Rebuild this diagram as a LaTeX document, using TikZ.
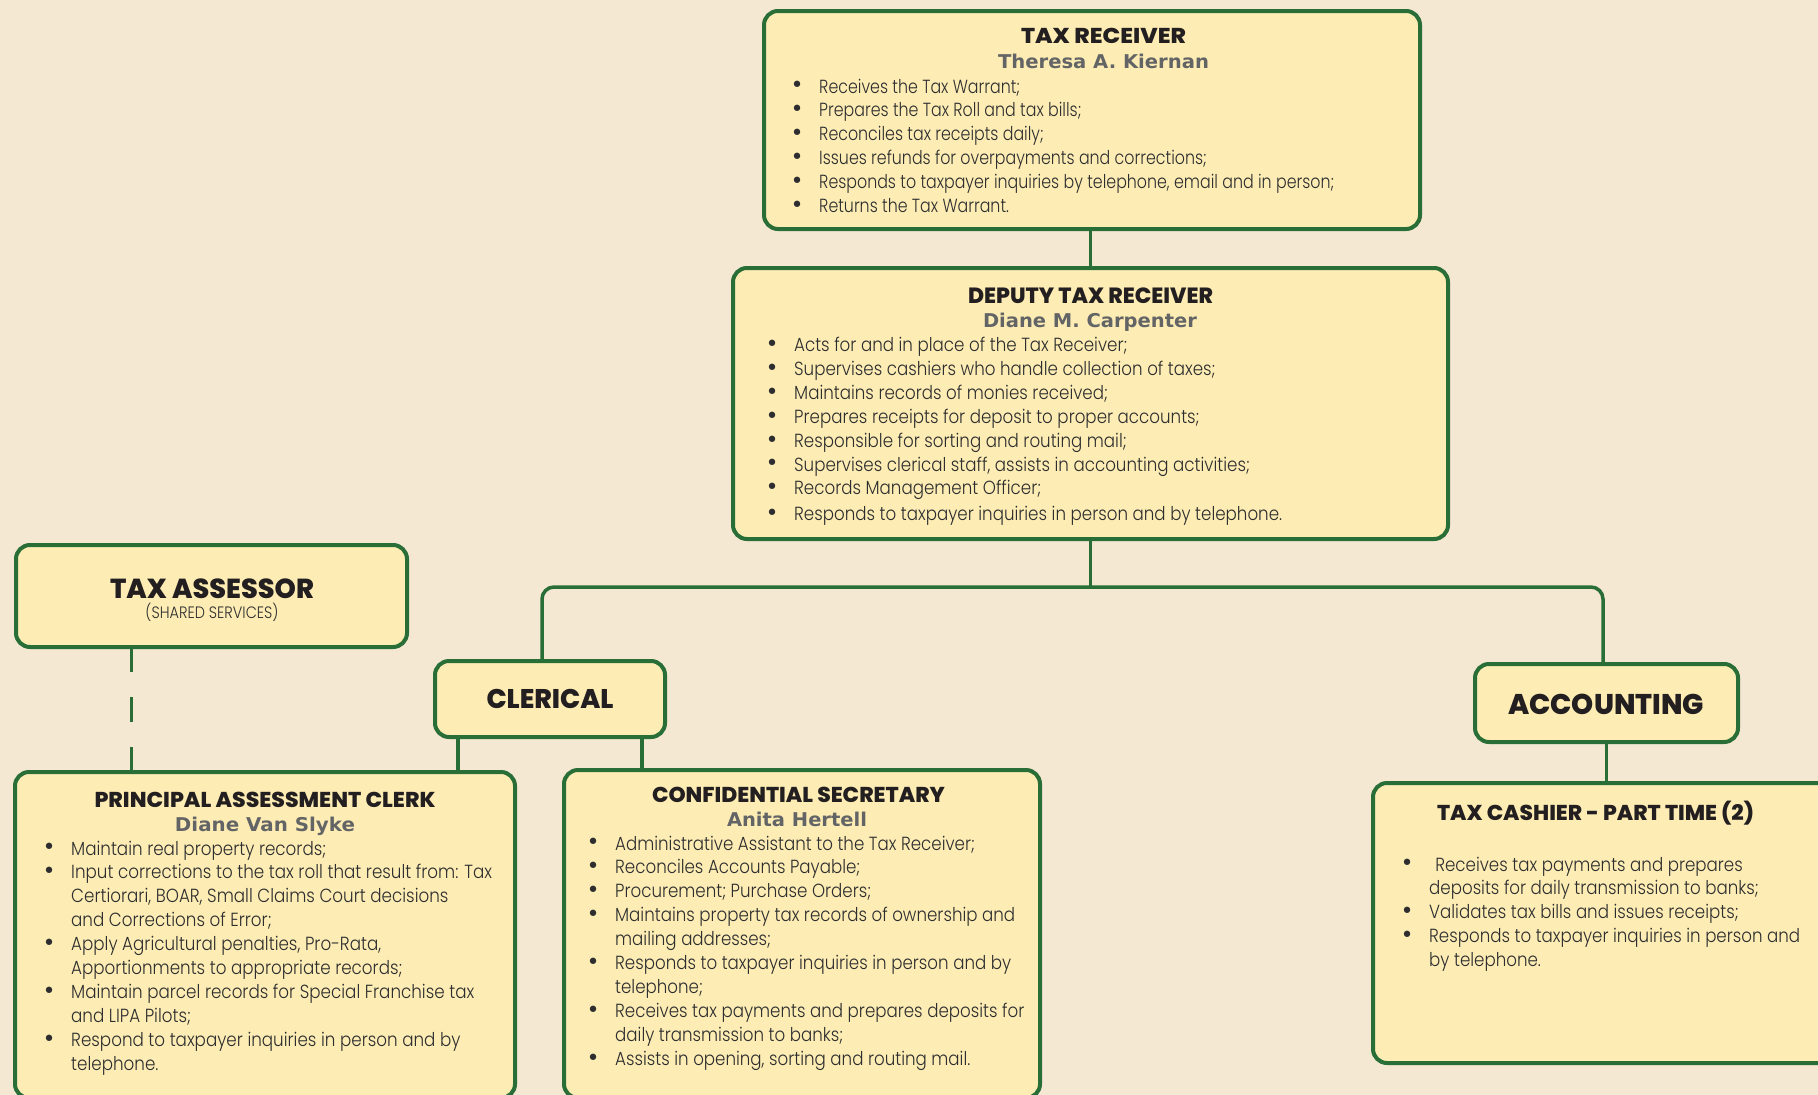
\documentclass[tikz,border=0pt]{standalone}
\usepackage{fontspec}
\usepackage{graphicx}
\newfontfamily\bodyf{Poppins Light}
\newfontfamily\headf{Poppins ExtraBold}
\newfontfamily\namef{DejaVu Sans}
\definecolor{bgc}{HTML}{F4E8D2}
\definecolor{boxfill}{HTML}{FDEDB4}
\definecolor{grn}{HTML}{2A6E37}
\definecolor{titlec}{HTML}{231F20}
\definecolor{namec}{HTML}{636466}
\definecolor{bodyc}{HTML}{2E2E30}
\newsavebox\measurebox
\newlength\measlen
\newcommand\setxr[2]{\sbox\measurebox{#2}\setlength\measlen{\wd\measurebox}\pgfmathsetmacro\xr{#1/\measlen}}
\newcommand\fitw[2]{\resizebox{#1pt}{\height}{#2}}
\newcommand\bul{\makebox[0pt][c]{\raisebox{-0.9pt}{\scalebox{1.45}{\textbullet}}}}
\newcommand\bl[1]{\hbox{\bul\hspace*{22pt}\scalebox{\xr}[1]{#1}}}
\newcommand\cl[1]{\hbox{\hspace*{22pt}\scalebox{\xr}[1]{#1}}}
\newcommand\lines[1]{\vtop{\baselineskip=23.9pt\lineskiplimit=-100pt\lineskip=0pt #1}}
\tikzset{
  box/.style={draw=grn, line width=4pt, fill=boxfill, rounded corners=14pt, inner sep=0pt, outer sep=0pt, anchor=north west},
  conn/.style={draw=grn, line width=3.5pt},
  ttl/.style={anchor=base, inner sep=0pt, text=titlec},
  nm/.style={anchor=base, inner sep=0pt, text=namec, font=\namef\bfseries\fontsize{19}{23}\selectfont},
  lst/.style={anchor=base west, inner sep=0pt, text=bodyc, font=\bodyf\fontsize{19}{24}\selectfont},
}
\begin{document}
\begin{tikzpicture}[x=1pt, y=1pt, yscale=-1]
\useasboundingbox (0,0) rectangle (1818,1095);
\clip (0,0) rectangle (1818,1095);
\fill[bgc] (0,0) rectangle (1818,1095);

% boxes
\node[box, minimum width=656pt, minimum height=218pt] (tr) at (764,11) {};
\node[box, minimum width=715pt, minimum height=271pt] (dtr) at (733,268) {};
\node[box, minimum width=391pt, minimum height=102pt] (ta) at (16,545) {};
\node[box, minimum width=230pt, minimum height=76pt] (cl) at (435,661) {};
\node[box, minimum width=263pt, minimum height=78pt] (acc) at (1475,664) {};
\node[box, minimum width=500pt, minimum height=326pt] (pac) at (15,772) {};
\node[box, minimum width=476pt, minimum height=328pt] (cs) at (564,770) {};
\node[box, minimum width=470pt, minimum height=280pt] (tc) at (1373,783) {};

% connectors
\draw[conn] (dtr.north) -- (dtr.north |- tr.south);
\coordinate (bus) at (1090.5,587);
\draw[conn] (dtr.south) -- (bus);
\draw[conn, rounded corners=12pt] ([xshift=-8pt]cl.north) |- (bus) -| ([xshift=-3.5pt]acc.north);
\draw[conn] (acc.south) -- (acc.south |- tc.north);
\draw[conn] ([xshift=-92pt]cl.south) -- ([xshift=-92pt]cl.south |- pac.north);
\draw[conn] ([xshift=92pt]cl.south) -- ([xshift=92pt]cl.south |- cs.north);
\draw[conn, dash pattern=on 25pt off 25pt] ([xshift=-80pt]ta.south) -- ([xshift=-80pt]ta.south |- pac.north);

% TAX RECEIVER
\node[ttl, font=\headf\fontsize{21.5}{26}\selectfont] (tr-t) at (1103.5,43) {\fitw{165}{TAX RECEIVER}};
\node[nm] (tr-n) at (1103.5,68) {\fitw{211}{Theresa A. Kiernan}};
\node[lst] (tr-l) at (797,93) {\setxr{515}{Responds to taxpayer inquiries by telephone, email and in person;}%
\lines{\bl{Receives the Tax Warrant;}
\bl{Prepares the Tax Roll and tax bills;}
\bl{Reconciles tax receipts daily;}
\bl{Issues refunds for overpayments and corrections;}
\bl{Responds to taxpayer inquiries by telephone, email and in person;}
\bl{Returns the Tax Warrant.}}};

% DEPUTY TAX RECEIVER
\node[ttl, font=\headf\fontsize{22}{26}\selectfont] (dtr-t) at (1090.5,303) {\fitw{245}{DEPUTY TAX RECEIVER}};
\node[nm] (dtr-n) at (1090,327) {\fitw{214}{Diane M. Carpenter}};
\node[lst] (dtr-l) at (772,351.5) {\setxr{488}{Responds to taxpayer inquiries in person and by telephone.}%
\lines{\bl{Acts for and in place of the Tax Receiver;}
\bl{Supervises cashiers who handle collection of taxes;}
\bl{Maintains records of monies received;}
\bl{Prepares receipts for deposit to proper accounts;}
\bl{Responsible for sorting and routing mail;}
\bl{Supervises clerical staff, assists in accounting activities;}
\bl{Records Management Officer;}
\kern2pt
\bl{Responds to taxpayer inquiries in person and by telephone.}}};

% TAX ASSESSOR
\node[ttl, font=\headf\fontsize{27.5}{32}\selectfont] (ta-t) at (212,598) {\fitw{204}{TAX ASSESSOR}};
\node[ttl, text=bodyc, font=\bodyf\fontsize{16.5}{20}\selectfont] (ta-s) at (212,618) {\fitw{133}{(SHARED SERVICES)}};

% CLERICAL
\node[ttl, font=\headf\fontsize{27}{32}\selectfont] (cl-t) at (550,708) {\fitw{127}{CLERICAL}};

% ACCOUNTING
\node[ttl, font=\headf\fontsize{28.5}{32}\selectfont] (acc-t) at (1606,714) {\fitw{196}{ACCOUNTING}};

% PRINCIPAL ASSESSMENT CLERK
\node[ttl, font=\headf\fontsize{21.5}{26}\selectfont] (pac-t) at (265,807) {\fitw{341}{PRINCIPAL ASSESSMENT CLERK}};
\node[nm] (pac-n) at (265,831) {\fitw{180}{Diane Van Slyke}};
\node[lst] (pac-l) at (49,855) {\setxr{421}{Input corrections to the tax roll that result from: Tax}%
\lines{\bl{Maintain real property records;}
\bl{Input corrections to the tax roll that result from: Tax}
\cl{Certiorari, BOAR, Small Claims Court decisions}
\cl{and Corrections of Error;}
\bl{Apply Agricultural penalties, Pro-Rata,}
\cl{Apportionments to appropriate records;}
\bl{Maintain parcel records for Special Franchise tax}
\cl{and LIPA Pilots;}
\bl{Respond to taxpayer inquiries in person and by}
\cl{telephone.}}};

% CONFIDENTIAL SECRETARY
\node[ttl, font=\headf\fontsize{21.5}{26}\selectfont] (cs-t) at (798.5,802) {\fitw{293}{CONFIDENTIAL SECRETARY}};
\node[nm] (cs-n) at (797,826) {\fitw{140}{Anita Hertell}};
\node[lst] (cs-l) at (593,850) {\setxr{400}{Maintains property tax records of ownership and}%
\lines{\bl{Administrative Assistant to the Tax Receiver;}
\bl{Reconciles Accounts Payable;}
\bl{Procurement; Purchase Orders;}
\bl{Maintains property tax records of ownership and}
\cl{mailing addresses;}
\bl{Responds to taxpayer inquiries in person and by}
\cl{telephone;}
\bl{Receives tax payments and prepares deposits for}
\cl{daily transmission to banks;}
\bl{Assists in opening, sorting and routing mail.}}};

% TAX CASHIER
\node[ttl, font=\headf\fontsize{21.5}{26}\selectfont] (tc-t) at (1595.5,820) {\fitw{317}{TAX CASHIER - PART TIME (2)}};
\node[lst] (tc-l) at (1407,871) {\setxr{371}{Responds to taxpayer inquiries in person and}%
\lines{\bl{\hspace*{7pt}Receives tax payments and prepares}
\cl{deposits for daily transmission to banks;}
\bl{Validates tax bills and issues receipts;}
\bl{Responds to taxpayer inquiries in person and}
\cl{by telephone.}}};
\end{tikzpicture}
\end{document}
